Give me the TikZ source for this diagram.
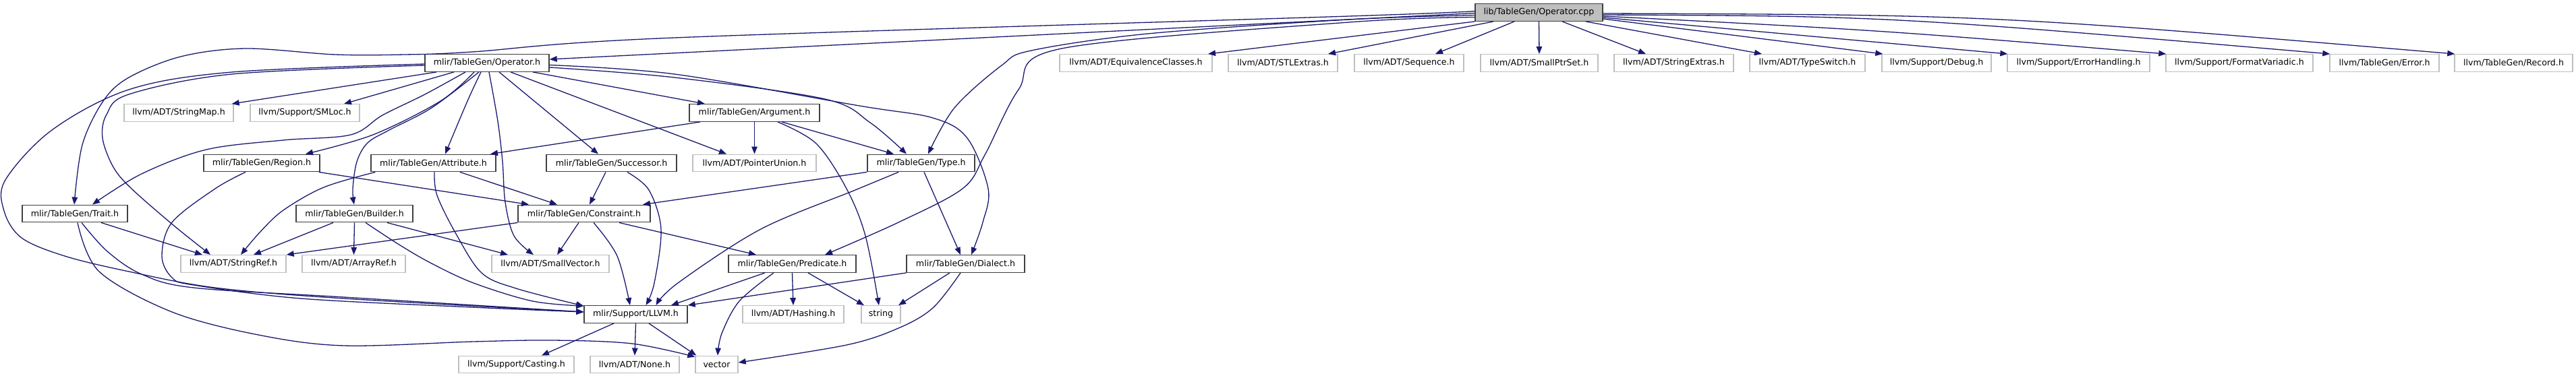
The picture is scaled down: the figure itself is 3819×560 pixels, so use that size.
\documentclass[tikz,border=0pt]{standalone}
\usepackage{fontspec}
\setmainfont{DejaVu Sans}
\usetikzlibrary{arrows.meta}
\definecolor{edgeblue}{HTML}{191970}
\definecolor{boxgray}{HTML}{BFBFBF}
\definecolor{boxdark}{HTML}{404040}
\begin{document}
\begin{tikzpicture}[x=1pt,y=-1pt,
  nbox/.style={rectangle, minimum height=25.5pt, inner xsep=3pt, inner ysep=0pt, font=\fontsize{12.6}{15}\selectfont, text=black, line width=1.4pt},
  dbox/.style={nbox, draw=boxdark, fill=white},
  gbox/.style={nbox, draw=boxgray, fill=white},
  sbox/.style={nbox, draw=boxdark, fill=boxgray},
  dep/.style={draw=edgeblue, line width=1.3pt, -{Triangle[length=11pt,width=8.5pt]}},
  sm/.style={smooth, tension=0.55}]
\fill[white] (0,0) rectangle (3819,560);
\useasboundingbox (0,0) rectangle (3819,560);
% row 0
\node[sbox, minimum width=189pt] (cpp) at (2281.5,18.5) {lib/TableGen/Operator.cpp};
% row 1
\node[dbox, minimum width=184pt] (oph) at (722,93.5) {mlir/TableGen/Operator.h};
\node[gbox, minimum width=226pt] (eqc) at (1684,93.5) {llvm/ADT/EquivalenceClasses.h};
\node[gbox, minimum width=162pt] (stl) at (1902,93.5) {llvm/ADT/STLExtras.h};
\node[gbox, minimum width=162pt] (seq) at (2089,93.5) {llvm/ADT/Sequence.h};
\node[gbox, minimum width=174pt] (sps) at (2282,93.5) {llvm/ADT/SmallPtrSet.h};
\node[gbox, minimum width=177pt] (sex) at (2481.5,93.5) {llvm/ADT/StringExtras.h};
\node[gbox, minimum width=171pt] (tsw) at (2679.5,93.5) {llvm/ADT/TypeSwitch.h};
\node[gbox, minimum width=162pt] (dbg) at (2871,93.5) {llvm/Support/Debug.h};
\node[gbox, minimum width=211pt] (erh) at (3081.5,93.5) {llvm/Support/ErrorHandling.h};
\node[gbox, minimum width=218pt] (fmv) at (3320,93.5) {llvm/Support/FormatVariadic.h};
\node[gbox, minimum width=162pt] (err) at (3535,93.5) {llvm/TableGen/Error.h};
\node[gbox, minimum width=175pt] (rec) at (3726.5,93.5) {llvm/TableGen/Record.h};
% row 2
\node[gbox, minimum width=162pt] (smap) at (265,167.5) {llvm/ADT/StringMap.h};
\node[gbox, minimum width=162pt] (smloc) at (452,167.5) {llvm/Support/SMLoc.h};
\node[dbox, minimum width=193pt] (arg) at (1118.5,167.5) {mlir/TableGen/Argument.h};
% row 3
\node[dbox, minimum width=172pt] (reg) at (388,242) {mlir/TableGen/Region.h};
\node[dbox, minimum width=185pt] (attr) at (642.5,242) {mlir/TableGen/Attribute.h};
\node[dbox, minimum width=193pt] (succ) at (906.5,242) {mlir/TableGen/Successor.h};
\node[gbox, minimum width=183pt] (punion) at (1118.5,242) {llvm/ADT/PointerUnion.h};
\node[dbox, minimum width=159pt] (type) at (1365.5,242) {mlir/TableGen/Type.h};
% row 4
\node[dbox, minimum width=156pt] (trait) at (111,317) {mlir/TableGen/Trait.h};
\node[dbox, minimum width=173pt] (bld) at (525.5,317) {mlir/TableGen/Builder.h};
\node[dbox, minimum width=196pt] (cons) at (866,317) {mlir/TableGen/Constraint.h};
% row 5
\node[gbox, minimum width=156pt] (sref) at (346,391.5) {llvm/ADT/StringRef.h};
\node[gbox, minimum width=153pt] (aref) at (524.5,391.5) {llvm/ADT/ArrayRef.h};
\node[gbox, minimum width=174pt] (svec) at (816,391.5) {llvm/ADT/SmallVector.h};
\node[dbox, minimum width=189pt] (pred) at (1174.5,391.5) {mlir/TableGen/Predicate.h};
\node[dbox, minimum width=175pt] (dial) at (1431.5,391.5) {mlir/TableGen/Dialect.h};
% row 6
\node[dbox, minimum width=153pt] (llvm) at (942.5,466.5) {mlir/Support/LLVM.h};
\node[gbox, minimum width=150pt] (hash) at (1176,466.5) {llvm/ADT/Hashing.h};
\node[gbox, minimum width=58pt] (str) at (1306,466.5) {string};
% row 7
\node[gbox, minimum width=171pt] (cast) at (765.5,541) {llvm/Support/Casting.h};
\node[gbox, minimum width=132pt] (none) at (941,541) {llvm/ADT/None.h};
\node[gbox, minimum width=63pt] (vec) at (1062.5,541) {vector};

% --- from Operator.cpp
\draw[dep] ([yshift=-1pt]cpp.west) -- ([yshift=5.5pt]oph.east);
\draw[dep] plot[sm] coordinates {([yshift=2pt]cpp.west) (2000,24) (1000,56) (700,77) (600,81) (497,81) (364,72) (268,84) (191,115) (153,150) (122,215) ([xshift=-1pt]trait.north)};
\draw[dep] plot[sm] coordinates {([yshift=-4pt]cpp.west) (2000,29) (1702,50) (1529,75) (1485,97) (1415,160) ([xshift=10.5pt]type.north)};
\draw[dep] plot[sm] coordinates {([yshift=-7pt]cpp.west) (2000,33) (1574,72) (1510,133) (1460,230) (1427,280) (1332,330) ([xshift=48.5pt]pred.north)};
\draw[dep] (cpp.south west) -- ([xshift=107pt]eqc.north);
\draw[dep] ([xshift=-67.5pt]cpp.south) -- ([xshift=67pt]stl.north);
\draw[dep] ([xshift=-36.5pt]cpp.south) -- ([xshift=39pt]seq.north);
\draw[dep] (cpp.south) -- (sps.north);
\draw[dep] ([xshift=34.5pt]cpp.south) -- ([xshift=-41.5pt]sex.north);
\draw[dep] ([xshift=69.5pt]cpp.south) -- ([xshift=-67.5pt]tsw.north);
\draw[dep] ([yshift=-9.5pt]cpp.east) -- ([xshift=2pt]dbg.north west);
\draw[dep] ([yshift=-7.5pt]cpp.east) -- ([xshift=1pt]erh.north west);
\draw[dep] ([yshift=-5.5pt]cpp.east) .. controls (2790,45) .. ([xshift=1pt]fmv.north west);
\draw[dep] ([yshift=-3.5pt]cpp.east) .. controls (2800,24) .. ([xshift=1pt]err.north west);
\draw[dep] ([yshift=-1.5pt]cpp.east) .. controls (2950,22) .. ([xshift=1pt]rec.north west);

% --- from Operator.h
\draw[dep] ([xshift=-75pt]oph.south) -- ([xshift=-3pt]smap.north east);
\draw[dep] ([xshift=-49pt]oph.south) -- ([xshift=58pt]smloc.north);
\draw[dep] plot[sm] coordinates {([xshift=-32pt]oph.south) (630,140) (567,171) (520,200) (420,208) (306,222) (210,258) ([xshift=26pt]trait.north)};
\draw[dep] plot[sm] coordinates {([xshift=-19pt]oph.south) (653,150) (553,200) ([xshift=65pt]reg.north)};
\draw[dep] plot[sm] coordinates {([xshift=-12pt]oph.south) (640,160) (577,193) (545,212) (529,240) (523,280) ([xshift=-0.5pt]bld.north)};
\draw[dep] plot[sm] coordinates {([xshift=-9pt]oph.south) (693,150) ([xshift=17.5pt]attr.north)};
\draw[dep] plot[sm] coordinates {([xshift=3pt]oph.south) (738,180) (745,240) (749,300) (762,350) ([xshift=-25pt]svec.north)};
\draw[dep] ([xshift=18pt]oph.south) -- ([xshift=-19.5pt]succ.north);
\draw[dep] ([xshift=35pt]oph.south) -- ([xshift=-41.5pt]punion.north);
\draw[dep] ([xshift=68pt]oph.south) -- ([xshift=-73.5pt]arg.north);
\draw[dep] plot[sm] coordinates {([yshift=-6.5pt]oph.east) (1000,115) (1223,147) (1290,182) ([xshift=-21.5pt]type.north)};
\draw[dep] plot[sm] coordinates {([yshift=-3pt]oph.east) (1000,110) (1274,157) (1383,175) (1434,205) (1465,280) (1457,330) ([xshift=8.5pt]dial.north)};
\draw[dep] plot[sm] coordinates {([yshift=-1.5pt]oph.west) (344,107) (191,133) (77,193) (8,267) (6,313) (32,353) (96,380) (191,403) (319,427) (510,443) ([yshift=3.5pt]llvm.west)};
\draw[dep] plot[sm] coordinates {([yshift=-3.5pt]oph.west) (344,110) (191,140) (158,170) (152,205) (168,248) (195,280) (258,335) ([xshift=-34pt]sref.north)};

% --- from Argument.h
\draw[dep] ([xshift=-80.5pt]arg.south) -- ([xshift=84.5pt]attr.north);
\draw[dep] (arg.south) -- (punion.north);
\draw[dep] ([xshift=40.5pt]arg.south) -- ([xshift=-40.5pt]type.north);
\draw[dep] plot[sm] coordinates {([xshift=34.5pt]arg.south) (1210,213) (1255,280) (1283,350) ([xshift=-3pt]str.north)};

% --- from Region.h
\draw[dep] ([xshift=-2pt]reg.south east) -- ([xshift=-82pt]cons.north);
\draw[dep] plot[sm] coordinates {([xshift=-24pt]reg.south) (319,280) (255,330) (240,380) (255,412) (287,423) (446,443) (700,456) ([yshift=3.5pt]llvm.west)};

% --- from Attribute.h
\draw[dep] plot[sm] coordinates {([xshift=7pt]attr.south west) (480,278) (420,312) (385,345) ([xshift=11pt]sref.north)};
\draw[dep] plot[sm] coordinates {([xshift=1.5pt]attr.south) (648,290) (676,347) (714,405) (765,428) ([yshift=-1pt]llvm.north west)};
\draw[dep] ([xshift=39.5pt]attr.south) -- ([xshift=-40pt]cons.north);

% --- from Successor.h
\draw[dep] ([xshift=-8.5pt]succ.south) -- ([xshift=8pt]cons.north);
\draw[dep] plot[sm] coordinates {([xshift=23.5pt]succ.south) (962,282) (980,340) (970,420) ([xshift=15pt]llvm.north)};

% --- from Type.h
\draw[dep] (type.south west) -- ([xshift=87pt]cons.north);
\draw[dep] plot[sm] coordinates {([xshift=-33.5pt]type.south) (1268,282) (1128,340) (1005,420) ([xshift=30pt]llvm.north)};
\draw[dep] ([xshift=4.5pt]type.south) -- ([xshift=-7.5pt]dial.north);

% --- from Trait.h
\draw[dep] ([xshift=39pt]trait.south) -- ([xshift=-46pt]sref.north);
\draw[dep] plot[sm] coordinates {([xshift=10pt]trait.south) (159,373) (210,407) (287,427) (510,441) ([yshift=3.5pt]llvm.west)};
\draw[dep] plot[sm] coordinates {([xshift=4pt]trait.south) (147,403) (255,463) (383,497) (510,513) (702,507) (820,505) (937,510) ([yshift=-2pt]vec.north west)};

% --- from Builder.h
\draw[dep] ([xshift=-31.5pt]bld.south) -- ([xshift=30pt]sref.north);
\draw[dep] (bld.south) -- (aref.north);
\draw[dep] plot[sm] coordinates {([xshift=16.5pt]bld.south) (590,362) (638,390) (702,420) (790,447) ([yshift=-1pt]llvm.north west)};
\draw[dep] ([xshift=48.5pt]bld.south) -- ([xshift=-63pt]svec.north);

% --- from Constraint.h
\draw[dep] (cons.south west) -- (sref.north east);
\draw[dep] ([xshift=-8pt]cons.south) -- ([xshift=10pt]svec.north);
\draw[dep] plot[sm] coordinates {([xshift=14pt]cons.south) (915,380) ([xshift=-8.5pt]llvm.north)};
\draw[dep] ([xshift=52pt]cons.south) -- ([xshift=-53.5pt]pred.north);

% --- from Predicate.h
\draw[dep] ([xshift=-40.5pt]pred.south) -- ([xshift=52.5pt]llvm.north);
\draw[dep] plot[sm] coordinates {([xshift=-27.5pt]pred.south) (1096,447) (1070,495) ([xshift=1.5pt]vec.north)};
\draw[dep] (pred.south) -- (hash.north);
\draw[dep] ([xshift=23.5pt]pred.south) -- ([xshift=-25pt]str.north);

% --- from Dialect.h
\draw[dep] (dial.south west) -- (llvm.north east);
\draw[dep] ([xshift=-23.5pt]dial.south) -- ([xshift=26pt]str.north);
\draw[dep] plot[sm] coordinates {([xshift=-7.5pt]dial.south) (1383,457) (1332,487) (1255,512) ([yshift=3pt]vec.east)};

% --- from LLVM.h
\draw[dep] ([xshift=-32.5pt]llvm.south) -- ([xshift=37.5pt]cast.north);
\draw[dep] (llvm.south) -- (none.north);
\draw[dep] ([xshift=19.5pt]llvm.south) -- ([xshift=2pt]vec.north west);
\end{tikzpicture}
\end{document}
